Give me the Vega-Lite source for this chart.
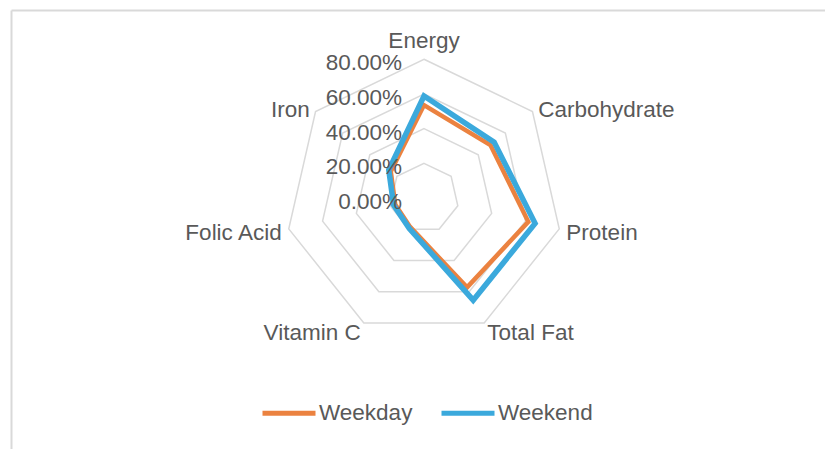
{
  "$schema": "https://vega.github.io/schema/vega-lite/v6.json",
  "width": 814,
  "height": 439,
  "autosize": {"type": "none"},
  "padding": {"left": 11, "top": 10, "right": 0, "bottom": 0},
  "background": "white",
  "config": {
    "view": {"stroke": null},
    "font": "Liberation Sans",
    "text": {"font": "Liberation Sans", "fontSize": 22.5, "color": "#595959"}
  },
  "datasets": {
    "intake": [
      {"nutrient": "Energy", "series": "Weekday", "value": 0.536},
      {"nutrient": "Carbohydrate", "series": "Weekday", "value": 0.49},
      {"nutrient": "Protein", "series": "Weekday", "value": 0.617},
      {"nutrient": "Total Fat", "series": "Weekday", "value": 0.572},
      {"nutrient": "Vitamin C", "series": "Weekday", "value": 0.185},
      {"nutrient": "Folic Acid", "series": "Weekday", "value": 0.17},
      {"nutrient": "Iron", "series": "Weekday", "value": 0.245},
      {"nutrient": "Energy", "series": "Weekend", "value": 0.588},
      {"nutrient": "Carbohydrate", "series": "Weekend", "value": 0.517},
      {"nutrient": "Protein", "series": "Weekend", "value": 0.657},
      {"nutrient": "Total Fat", "series": "Weekend", "value": 0.654},
      {"nutrient": "Vitamin C", "series": "Weekend", "value": 0.195},
      {"nutrient": "Folic Acid", "series": "Weekend", "value": 0.18},
      {"nutrient": "Iron", "series": "Weekend", "value": 0.26}
    ],
    "axes": [
      {"nutrient": "Energy"},
      {"nutrient": "Carbohydrate"},
      {"nutrient": "Protein"},
      {"nutrient": "Total Fat"},
      {"nutrient": "Vitamin C"},
      {"nutrient": "Folic Acid"},
      {"nutrient": "Iron"}
    ],
    "ticks": [
      {"level": 0},
      {"level": 0.2},
      {"level": 0.4},
      {"level": 0.6},
      {"level": 0.8}
    ]
  },
  "encoding": {
    "x": {
      "field": "px",
      "type": "quantitative",
      "scale": {"domain": [-2.3818, 2.3125], "nice": false, "zero": false},
      "axis": {"orient": "top", "title": null, "labels": false, "ticks": false, "grid": false, "domainColor": "#d9d9d9", "domainWidth": 2}
    },
    "y": {
      "field": "py",
      "type": "quantitative",
      "scale": {"domain": [-1.4475, 1.0842], "nice": false, "zero": false},
      "axis": {"orient": "left", "title": null, "labels": false, "ticks": false, "grid": false, "domainColor": "#d9d9d9", "domainWidth": 2}
    }
  },
  "layer": [
    {
      "data": {"name": "axes"},
      "transform": [
        {"calculate": "indexof(['Energy','Carbohydrate','Protein','Total Fat','Vitamin C','Folic Acid','Iron'], datum.nutrient)", "as": "idx"},
        {"calculate": "0.2", "as": "L20"},
        {"calculate": "0.4", "as": "L40"},
        {"calculate": "0.6", "as": "L60"},
        {"calculate": "0.8", "as": "L80"},
        {"fold": ["L20", "L40", "L60", "L80"], "as": ["ring", "r"]},
        {"calculate": "datum.r * sin(datum.idx * 2 * PI / 7)", "as": "px"},
        {"calculate": "datum.r * cos(datum.idx * 2 * PI / 7)", "as": "py"}
      ],
      "mark": {"type": "line", "interpolate": "linear-closed", "color": "#d9d9d9", "strokeWidth": 1.5},
      "encoding": {
        "detail": {"field": "ring", "type": "nominal"},
        "order": {"field": "idx", "type": "quantitative"}
      }
    },
    {
      "data": {"name": "intake"},
      "transform": [
        {"filter": "datum.series == 'Weekday'"},
        {"calculate": "indexof(['Energy','Carbohydrate','Protein','Total Fat','Vitamin C','Folic Acid','Iron'], datum.nutrient)", "as": "idx"},
        {"calculate": "datum.value * sin(datum.idx * 2 * PI / 7)", "as": "px"},
        {"calculate": "datum.value * cos(datum.idx * 2 * PI / 7)", "as": "py"}
      ],
      "mark": {"type": "line", "interpolate": "linear-closed", "strokeWidth": 4.5},
      "encoding": {
        "color": {
          "field": "series",
          "type": "nominal",
          "scale": {"domain": ["Weekday", "Weekend"], "range": ["#EB8240", "#3BA9DC"]},
          "legend": {
            "title": null,
            "orient": "none",
            "legendX": 249,
            "legendY": 374,
            "direction": "horizontal",
            "symbolType": "stroke",
            "symbolSize": 2809,
            "symbolStrokeWidth": 5,
            "labelFontSize": 22.5,
            "labelColor": "#595959",
            "labelFont": "Liberation Sans",
            "labelOffset": 1,
            "columnPadding": 18,
            "padding": 0
          }
        },
        "order": {"field": "idx", "type": "quantitative"}
      }
    },
    {
      "data": {"name": "intake"},
      "transform": [
        {"filter": "datum.series == 'Weekend'"},
        {"calculate": "indexof(['Energy','Carbohydrate','Protein','Total Fat','Vitamin C','Folic Acid','Iron'], datum.nutrient)", "as": "idx"},
        {"calculate": "datum.value * sin(datum.idx * 2 * PI / 7)", "as": "px"},
        {"calculate": "datum.value * cos(datum.idx * 2 * PI / 7)", "as": "py"}
      ],
      "mark": {"type": "line", "interpolate": "linear-closed", "strokeWidth": 5.5},
      "encoding": {
        "color": {
          "field": "series",
          "type": "nominal",
          "scale": {"domain": ["Weekday", "Weekend"], "range": ["#EB8240", "#3BA9DC"]}
        },
        "order": {"field": "idx", "type": "quantitative"}
      }
    },
    {
      "data": {"name": "axes"},
      "transform": [
        {"calculate": "indexof(['Energy','Carbohydrate','Protein','Total Fat','Vitamin C','Folic Acid','Iron'], datum.nutrient)", "as": "idx"},
        {"filter": "datum.idx == 0"},
        {"calculate": "0.842 * sin(datum.idx * 2 * PI / 7)", "as": "px"},
        {"calculate": "0.842 * cos(datum.idx * 2 * PI / 7)", "as": "py"}
      ],
      "mark": {"type": "text", "align": "center", "baseline": "bottom", "dy": 1},
      "encoding": {"text": {"field": "nutrient"}}
    },
    {
      "data": {"name": "axes"},
      "transform": [
        {"calculate": "indexof(['Energy','Carbohydrate','Protein','Total Fat','Vitamin C','Folic Acid','Iron'], datum.nutrient)", "as": "idx"},
        {"filter": "datum.idx >= 1 && datum.idx <= 3"},
        {"calculate": "0.842 * sin(datum.idx * 2 * PI / 7)", "as": "px"},
        {"calculate": "0.842 * cos(datum.idx * 2 * PI / 7)", "as": "py"}
      ],
      "mark": {"type": "text", "align": "left", "baseline": "middle", "dy": 3},
      "encoding": {"text": {"field": "nutrient"}}
    },
    {
      "data": {"name": "axes"},
      "transform": [
        {"calculate": "indexof(['Energy','Carbohydrate','Protein','Total Fat','Vitamin C','Folic Acid','Iron'], datum.nutrient)", "as": "idx"},
        {"filter": "datum.idx >= 4"},
        {"calculate": "0.842 * sin(datum.idx * 2 * PI / 7)", "as": "px"},
        {"calculate": "0.842 * cos(datum.idx * 2 * PI / 7)", "as": "py"}
      ],
      "mark": {"type": "text", "align": "right", "baseline": "middle", "dy": 3},
      "encoding": {"text": {"field": "nutrient"}}
    },
    {
      "data": {"name": "ticks"},
      "transform": [
        {"calculate": "0", "as": "px"},
        {"calculate": "datum.level", "as": "py"}
      ],
      "mark": {"type": "text", "align": "right", "baseline": "middle", "dx": -22, "dy": 4},
      "encoding": {"text": {"field": "level", "type": "quantitative", "format": ".2%"}}
    }
  ]
}
